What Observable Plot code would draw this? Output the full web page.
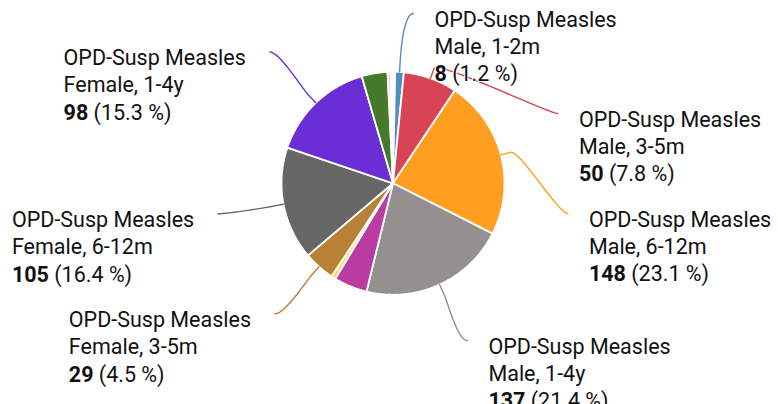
<!DOCTYPE html>
<html>
<head>
<meta charset="utf-8">
<script src="https://cdn.jsdelivr.net/npm/d3@7"></script>
<script src="https://cdn.jsdelivr.net/npm/@observablehq/plot@0.6"></script>
<style>
html, body { margin: 0; padding: 0; background: #fff; overflow: hidden; }
#chart svg { display: block; }
</style>
</head>
<body>
<div id="chart"></div>
<script>
// ---------------- data ----------------
const prefix = "OPD-Susp Measles";
const categories = [
  "Male, <1m", "Male, 1-2m", "Male, 3-5m", "Male, 6-12m", "Male, 1-4y", "Male, 5-14y",
  "Female, 1-2m", "Female, 3-5m", "Female, 6-12m", "Female, 1-4y", "Female, 5-14y",
  "Female, <1m", "Unknown"
];
const values = [2, 8, 50, 148, 137, 31, 4, 29, 105, 98, 24, 3, 2];
const colors = [
  "#a8bf24", "#518cc3", "#d74554", "#ff9e21", "#968f8f", "#ba3ba1",
  "#ffda54", "#b98037", "#676767", "#6b2dd4", "#47792c", "#fcd5d5", "#f2efc4"
];
const labeled = [
  "Male, 1-2m", "Male, 3-5m", "Male, 6-12m", "Male, 1-4y",
  "Female, 3-5m", "Female, 6-12m", "Female, 1-4y"
];

// ---------------- layout ----------------
const W = 778, H = 404;
const cx = 392.5, cy = 182.8, r = 111.5;
const cyL = 180, labelR = 178, labelGap = 100, topBound = 13, bottomBound = 340, minDx = 20.5;
const breakOff = 10, ctrlOff = 10;
const fs = 21.5, lineH = 27.4, textGapRight = 21, textGapLeft = 24, baseOff = 13;
const font = "Roboto";

const ctx = document.createElement("canvas").getContext("2d");
function tw(s, weight) { ctx.font = `${weight} ${fs}px ${font}`; return ctx.measureText(s).width; }

const rows = categories.map((c, i) => ({name: c, value: values[i], color: colors[i]}));
const total = d3.sum(values);
const arcs = d3.pie().sort(null).value(d => d.value)(rows);
const pt = (a, rad) => ({x: cx + rad * Math.sin(a), y: cy - rad * Math.cos(a)});

// slices
const sliceMarks = arcs.map(a => {
  const n = Math.max(2, Math.ceil((a.endAngle - a.startAngle) / (Math.PI / 720)));
  const pts = [pt(0, 0)];
  for (let k = 0; k <= n; k++) pts.push(pt(a.startAngle + (a.endAngle - a.startAngle) * k / n, r));
  return Plot.line(pts, {
    x: "x", y: "y", fill: a.data.color, stroke: "white", strokeWidth: 1.8,
    strokeLinejoin: "round", curve: "linear-closed"
  });
});

// label placement (Highcharts-like distribution)
const labs = arcs.filter(a => labeled.includes(a.data.name)).map(a => {
  const m = (a.startAngle + a.endAngle) / 2;
  return {a, m, right: m < Math.PI, ny: cyL - labelR * Math.cos(m)};
});
function distribute(items) {
  let cl = items.map(d => ({ds: [d]}));
  const fix = c => {
    const n = c.ds.length;
    c.pos = d3.mean(c.ds, (d, k) => d.ny - k * labelGap);
    c.pos = Math.min(Math.max(c.pos, topBound), bottomBound - (n - 1) * labelGap);
  };
  cl.forEach(fix);
  let merged = true;
  while (merged) {
    merged = false;
    for (let i = 1; i < cl.length; i++) {
      const a = cl[i - 1], b = cl[i];
      if (a.pos + a.ds.length * labelGap > b.pos + 1e-9) {
        const c = {ds: a.ds.concat(b.ds)};
        fix(c);
        cl.splice(i - 1, 2, c);
        merged = true;
        break;
      }
    }
  }
  cl.forEach(c => c.ds.forEach((d, k) => { d.y = c.pos + k * labelGap; }));
}
for (const side of [true, false]) {
  const items = labs.filter(d => d.right === side).sort((p, q) => p.ny - q.ny);
  distribute(items);
  items.forEach(d => {
    const atBound = Math.abs(d.y - topBound) < 1e-6 || Math.abs(d.y - bottomBound) < 1e-6;
    const yy = atBound ? d.ny : d.y;
    const dy = Math.max(-labelR, Math.min(labelR, yy - cyL));
    const dx = Math.max(Math.sqrt(labelR * labelR - dy * dy), minDx);
    d.x = cx + (side ? dx : -dx);
  });
}

// connectors
const connectorMarks = labs.map(d => {
  const t = pt(d.m, r), b = pt(d.m, r + breakOff);
  const p0 = {x: d.x, y: d.y};
  const c1 = {x: d.x + (d.right ? -ctrlOff : ctrlOff), y: d.y};
  const c2 = {x: 2 * b.x - t.x, y: 2 * b.y - t.y};
  const pts = [];
  for (let k = 0; k <= 40; k++) {
    const s = k / 40, u = 1 - s;
    pts.push({
      x: u*u*u*p0.x + 3*u*u*s*c1.x + 3*u*s*s*c2.x + s*s*s*b.x,
      y: u*u*u*p0.y + 3*u*u*s*c1.y + 3*u*s*s*c2.y + s*s*s*b.y
    });
  }
  pts.push(t);
  return Plot.line(pts, {x: "x", y: "y", stroke: d.a.data.color, strokeWidth: 1.4, fill: "none"});
});

// texts
const normalRows = [], boldRows = [];
labs.forEach(d => {
  const v = d.a.data.value;
  const pct = `(${(v / total * 100).toFixed(1)} %)`;
  const blockW = Math.max(tw(prefix, 400), tw(d.a.data.name, 400), tw(String(v), 700) + tw(" " + pct, 400));
  const x0 = d.right ? d.x + textGapRight : d.x - textGapLeft - blockW;
  const base = d.y + baseOff;
  const off = 0.32 * fs;
  normalRows.push({x: x0, y: base - off, text: prefix});
  normalRows.push({x: x0, y: base + lineH - off, text: d.a.data.name});
  boldRows.push({x: x0, y: base + 2 * lineH - off, text: String(v)});
  normalRows.push({x: x0 + tw(String(v), 700) + tw(" ", 400), y: base + 2 * lineH - off, text: pct});
});
const textOpts = {
  x: "x", y: "y", text: "text", textAnchor: "start", fontFamily: font, fontSize: fs,
  fill: "#111", stroke: "white", strokeWidth: 2, paintOrder: "stroke", strokeLinejoin: "round"
};

const chart = Plot.plot({
  width: W, height: H, margin: 0,
  x: {domain: [0, W], range: [0, W], axis: null},
  y: {domain: [0, H], range: [0, H], axis: null},
  style: {background: "white"},
  marks: [
    ...sliceMarks,
    ...connectorMarks,
    Plot.text(normalRows, {...textOpts, fontWeight: 400}),
    Plot.text(boldRows, {...textOpts, fontWeight: 700})
  ]
});
document.getElementById("chart").appendChild(chart);
</script>
</body>
</html>
